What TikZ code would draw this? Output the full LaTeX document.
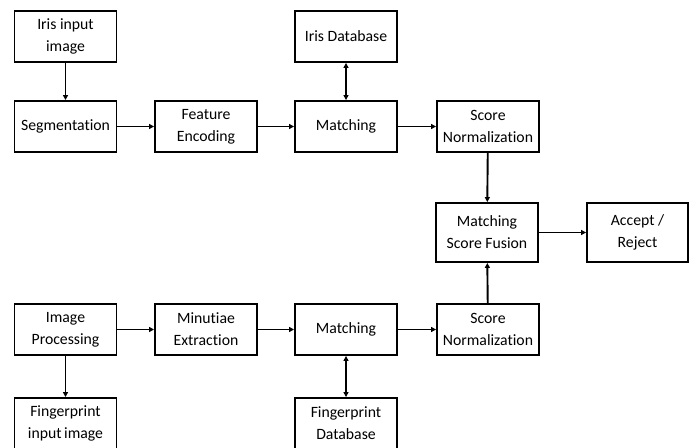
\documentclass[tikz,border=0pt]{standalone}
\usepackage{fontspec}
\setmainfont[Ligatures=NoCommon]{Carlito}
\usetikzlibrary{arrows.meta}
\begin{document}
\begin{tikzpicture}[x=1bp,y=-1bp,
  box/.style={draw=black,line width=1.9bp,minimum width=102bp,minimum height=51bp,inner sep=0pt,align=center,font=\fontsize{15.8}{22}\selectfont},
  conn/.style={line width=1.9bp,-{Triangle[length=5bp,width=5bp]}},
  bconn/.style={line width=1.9bp,{Triangle[length=5bp,width=5bp]}-{Triangle[length=5bp,width=5bp]}}]
\useasboundingbox (0,0) rectangle (696,448);
\clip (0,0) rectangle (696,448);
\node[box] (iin) at (65.5,36.5) {Iris input\\image};
\node[box] (seg) at (65.5,126.5) {Segmentation};
\node[box] (fe) at (206,126.5) {Feature\\Encoding};
\node[box] (idb) at (346,36.5) {Iris Database};
\node[box] (m1) at (346,126.5) {Matching};
\node[box] (sn1) at (488,126.5) {Score\\Normalization};
\node[box,minimum height=59bp] (fus) at (487,232.5) {Matching\\Score Fusion};
\node[box,minimum width=101bp,minimum height=59bp] (acc) at (637.5,232.5) {Accept /\\Reject};
\node[box] (ip) at (65.5,329.5) {Image\\Processing};
\node[box] (me) at (206,329.5) {Minutiae\\Extraction};
\node[box] (m2) at (346,329.5) {Matching};
\node[box] (sn2) at (488,329.5) {Score\\Normalization};
\node[box] (fin) at (65.5,423.5) {Fingerprint\\input\,image};
\node[box] (fdb) at (346,423.5) {Fingerprint\\Database};
\draw[conn] (iin) -- (seg);
\draw[conn] (seg) -- (fe);
\draw[conn] (fe) -- (m1);
\draw[bconn] (idb) -- (m1);
\draw[conn] (m1) -- (sn1);
\draw[conn] (sn1) -- (fus);
\draw[conn] (fus) -- (acc);
\draw[conn] (sn2) -- (fus);
\draw[conn] (ip) -- (me);
\draw[conn] (ip) -- (fin);
\draw[conn] (me) -- (m2);
\draw[conn] (m2) -- (sn2);
\draw[bconn] (m2) -- (fdb);
\end{tikzpicture}
\end{document}
